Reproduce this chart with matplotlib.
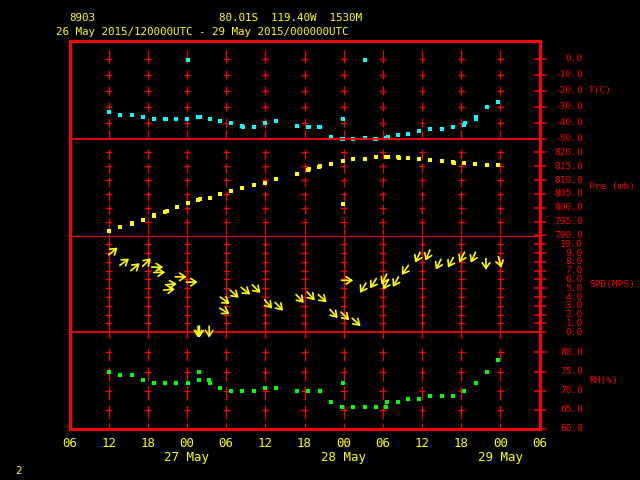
import matplotlib
matplotlib.use('Agg')
import matplotlib.pyplot as plt
import numpy as np
from matplotlib.transforms import blended_transform_factory as btf

# ---------------- data (hours since 26 May 2015 00UTC) ----------------
t_hours = [12.1, 13.8, 15.5, 17.2, 18.9, 20.6, 20.75, 22.3, 24.0, 24.1, 25.7, 26.0, 27.5,
           29.1, 30.8, 32.4, 32.6, 34.2, 36.0, 37.7, 40.9, 42.6, 42.7, 44.2, 44.4, 46.1,
           47.9, 47.7, 47.9, 49.5, 51.2, 51.2, 52.8, 53.0, 54.5, 54.8, 56.4, 57.9, 59.6,
           61.3, 63.0, 64.8, 66.4, 66.6, 68.2, 68.3, 70.0, 71.7]
t_vals = [-33.6, -35.0, -35.6, -36.3, -37.5, -38.1, -38.1, -37.5, -37.5, -0.6, -36.3, -36.3, -37.5,
          -38.8, -40.6, -41.9, -43.1, -43.1, -40.0, -38.8, -41.9, -42.5, -43.1, -42.5, -43.1, -48.8,
          -37.5, -50.0, -50.6, -50.6, -0.6, -49.4, -50.6, -50.0, -49.4, -48.8, -48.1, -46.9, -45.0,
          -43.8, -43.8, -42.5, -41.3, -40.6, -37.5, -36.3, -30.6, -26.9]

p_hours = [12.1, 13.8, 15.5, 15.6, 17.2, 18.9, 19.0, 20.6, 20.9, 22.4, 24.1, 25.7, 26.0, 27.5,
           29.1, 30.8, 32.5, 34.2, 36.0, 37.7, 40.9, 42.6, 42.7, 44.2, 44.4, 46.1, 47.9, 47.9,
           49.5, 51.2, 52.9, 54.5, 54.8, 56.4, 56.5, 57.9, 59.6, 61.3, 63.0, 64.8, 64.9, 66.5,
           68.1, 69.9, 71.7]
p_vals = [791.8, 793.2, 794.3, 794.6, 795.7, 797.1, 797.5, 798.6, 798.9, 800.4, 801.8, 802.9, 803.2, 803.6,
          805.0, 806.1, 807.1, 808.2, 808.9, 810.4, 812.1, 813.6, 813.9, 814.6, 815.0, 815.7, 816.8, 801.4,
          817.5, 817.5, 818.2, 818.2, 818.2, 818.2, 817.9, 817.9, 817.5, 817.1, 816.8, 816.4, 816.1, 816.1,
          815.7, 815.4, 815.4]

rh_hours = [12.1, 13.8, 15.5, 17.2, 18.9, 20.6, 22.3, 24.1, 25.9, 25.8, 27.3, 27.5, 29.1, 30.8,
            32.5, 34.2, 36.0, 37.7, 40.9, 42.6, 44.3, 46.1, 47.9, 47.8, 49.5, 51.2, 52.9, 54.5,
            54.7, 56.4, 57.9, 59.6, 61.3, 63.0, 64.8, 66.5, 68.2, 69.9, 71.7]
rh_vals = [75.0, 74.0, 74.0, 72.9, 71.9, 71.9, 71.9, 71.9, 75.0, 72.9, 72.9, 71.9, 70.8, 69.8,
           69.8, 69.8, 70.8, 70.8, 69.8, 69.8, 69.8, 66.9, 71.9, 65.8, 65.8, 65.8, 65.8, 65.8,
           66.9, 66.9, 67.9, 67.9, 68.7, 68.7, 68.7, 69.8, 71.9, 75.0, 77.9]

wind_hours = [12.0, 13.7, 15.4, 17.2, 18.6, 18.9, 20.7, 20.4, 22.2, 23.9, 25.7, 25.9, 27.4,
              29.1, 29.0, 30.6, 32.3, 34.0, 35.9, 37.5, 40.7, 42.4, 44.1, 45.9, 47.6, 49.3,
              47.7, 51.4, 53.0, 54.6, 54.9, 56.4, 57.9, 59.7, 61.2, 62.9, 64.8, 66.5, 68.2,
              69.8, 71.7]
wind_speed = [8.8, 7.6, 7.0, 7.5, 7.4, 6.8, 5.4, 4.8, 6.3, 5.7, 0.7, 0.7, 0.7,
              4.0, 2.75, 4.8, 5.1, 5.4, 3.7, 3.4, 4.3, 4.6, 4.3, 2.6, 2.3, 1.6,
              5.9, 5.6, 6.1, 6.6, 6.0, 6.3, 7.6, 9.1, 9.35, 8.3, 8.5, 9.1, 9.1,
              8.4, 8.6]
wind_dir = [231, 234, 230, 226, 270, 270, 265, 265, 270, 270, 0, 0, 0,
            306, 301, 312, 308, 315, 320, 316, 317, 318, 313, 318, 315, 313,
            270, 30, 32, 28, 30, 29, 34, 25, 22, 26, 28, 26, 24,
            0, 345]

x_tick_hours = list(range(6, 79, 6))
grid_hours = list(range(12, 73, 6))
date_hours = [24, 48, 72]
date_labels = ['27 May', '28 May', '29 May']

t_ticks = [0, -10, -20, -30, -40, -50]
p_ticks = [820, 815, 810, 805, 800, 795, 790]
s_ticks = [10, 9, 8, 7, 6, 5, 4, 3, 2, 1, 0]
rh_ticks = [80, 75, 70, 65, 60]

# ---------------- layout ----------------
W, H = 640, 480
RED = '#ff0000'
YEL = '#ffff00'
MONO = 'DejaVu Sans Mono'
fig = plt.figure(figsize=(6.4, 4.8), dpi=100, facecolor='black')

X0, X1 = 69.5, 539.5
YB = [41, 138.5, 235.5, 332.3, 428.7]
ylims = [(-50, 11), (790, 825), (0, 11), (60, 85.3)]
ticks_all = [t_ticks, p_ticks, s_ticks, rh_ticks]
names = ['T(C)', 'Pre (mb)', 'SPD(MPS)', 'RH(%)']
name_y = [90.5, 186.5, 284, 381]
sep_lw = [1.3, 0.7, 1.3, 2.2]
pxh = 6.533  # px per hour

axes = []
for i in range(4):
    top, bot = YB[i], YB[i + 1]
    ax = fig.add_axes([X0 / W, 1 - bot / H, (X1 - X0) / W, (bot - top) / H])
    ax.set_facecolor('none')
    ax.set_xlim(6, 78)
    ax.set_ylim(*ylims[i])
    for s in ['left', 'right']:
        ax.spines[s].set_color(RED)
        ax.spines[s].set_linewidth(2.2)
    ax.spines['top'].set_color(RED)
    ax.spines['bottom'].set_color(RED)
    ax.spines['top'].set_linewidth(2.2)
    ax.spines['bottom'].set_linewidth(sep_lw[i])
    ax.spines['bottom'].set_zorder(10)
    if i != 0:
        ax.spines['top'].set_visible(False)
    ax.set_xticks([])
    ax.yaxis.tick_right()
    ax.set_yticks(ticks_all[i])
    ax.tick_params(axis='y', which='both', direction='inout', length=9, width=1.1,
                   color=RED, labelright=False, labelleft=False, left=False)
    tr = btf(ax.transAxes, ax.transData)
    for v in ticks_all[i]:
        ax.text(1 + 43.5 / (X1 - X0), v, f'{v:.1f}', transform=tr, ha='right',
                va='center', color=RED, fontsize=6.8, family=MONO, clip_on=False)
    fig.text(589 / W, 1 - name_y[i] / H, names[i], ha='left', va='center',
             color=RED, fontsize=6.8, family=MONO)
    axes.append(ax)

# ---------------- crosses (grid) ----------------
seg_cfg = [  # (interior ticks, px above, px below, bottom seg px)
    (t_ticks[:-1], 4.5, 4.5, 9.0),
    (p_ticks[:-1], 3.3, 6.7, 6.5),
    (None, 0, 0, 0),
    (rh_ticks[:-1], 4.4, 9.0, 6.0),
]
for i, ax in enumerate(axes):
    lo, hi = ylims[i]
    ppu = (YB[i + 1] - YB[i]) / (hi - lo)
    hw = 3.5 / pxh
    interior, a, b, bs = seg_cfg[i]
    if i == 2:
        iticks = [v for v in s_ticks if v > 0]
        for g in grid_hours:
            ax.vlines(g, lo, hi, color=RED, lw=0.9)
            ax.vlines(g, lo - 6 / ppu, lo, color=RED, lw=0.9, clip_on=False)
            ax.hlines(iticks, g - hw, g + hw, color=RED, lw=0.9)
        continue
    for g in grid_hours:
        for k, v in enumerate(interior):
            up = a + (4.5 if (i == 0 and k == 0) else 0)
            ax.vlines(g, v - b / ppu, v + up / ppu, color=RED, lw=0.9)
        ax.vlines(g, lo, lo + bs / ppu, color=RED, lw=0.9)
        if i == 3:
            ax.vlines(g, hi - 6 / ppu, hi, color=RED, lw=0.9)
        ax.hlines(interior, g - hw, g + hw, color=RED, lw=0.9)

# ---------------- data ----------------
axT, axP, axS, axR = axes
axT.plot(t_hours, t_vals, 's', color='#00ffff', ms=3.0, mew=0, clip_on=False, zorder=5)
axP.plot(p_hours, p_vals, 's', color=YEL, ms=3.0, mew=0, clip_on=False, zorder=5)
axR.plot(rh_hours, rh_vals, 's', color='#00ff00', ms=3.0, mew=0, clip_on=False, zorder=5)

L = 11.5
for h, s, d in zip(wind_hours, wind_speed, wind_dir):
    toward = np.deg2rad(d + 180)
    dx, dy = L * np.sin(toward), L * np.cos(toward)
    ann = axS.annotate('', xy=(h, s), xytext=(dx, dy), textcoords='offset pixels',
                       arrowprops=dict(arrowstyle='<-,head_length=0.45,head_width=0.3',
                                       color=YEL, lw=1.2, shrinkA=0, shrinkB=0,
                                       mutation_scale=9),
                       annotation_clip=False, zorder=12)
    ann.arrow_patch.set_clip_on(False)

# ---------------- x labels ----------------
trx = btf(axR.transData, fig.transFigure)
for h in x_tick_hours:
    axR.text(h, 1 - 443.5 / H, f'{h % 24:02d}', transform=trx, ha='center', va='center',
             color=YEL, fontsize=9, family=MONO, clip_on=False)
for h, lab in zip(date_hours, date_labels):
    axR.text(h, 1 - 458 / H, lab, transform=trx, ha='center', va='center',
             color=YEL, fontsize=9, family=MONO, clip_on=False)

# ---------------- titles ----------------
fig.text(69 / W, 1 - 18 / H, '8903', ha='left', va='center', color=YEL, fontsize=7.8, family=MONO)
fig.text(219 / W, 1 - 18 / H, '80.01S  119.40W  1530M', ha='left', va='center',
         color=YEL, fontsize=7.8, family=MONO)
fig.text(56 / W, 1 - 32 / H, '26 May 2015/120000UTC - 29 May 2015/000000UTC', ha='left',
         va='center', color=YEL, fontsize=7.8, family=MONO)
fig.text(15 / W, 1 - 471 / H, '2', ha='left', va='center', color=YEL, fontsize=7.8, family=MONO)

fig.savefig('out.png', dpi=100, facecolor='black')
